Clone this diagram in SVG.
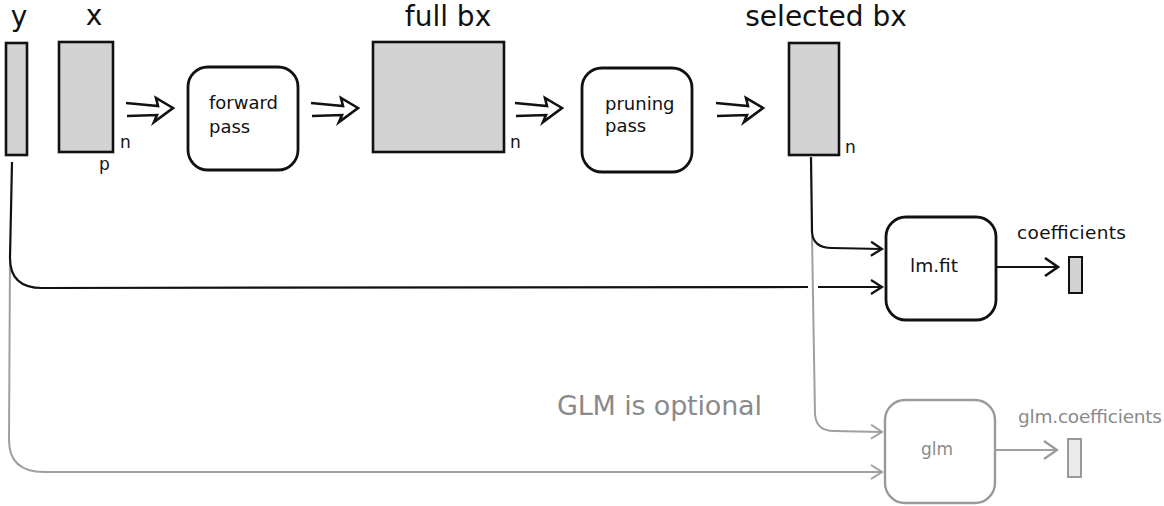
<svg xmlns="http://www.w3.org/2000/svg" xmlns:xlink="http://www.w3.org/1999/xlink" width="1164" height="506" viewBox="0 0 1164 506">
<style>
text{font-family:"DejaVu Sans","Liberation Sans",sans-serif;fill:#111}
.big{font-size:28px}
.box{font-size:18px}
.dim{font-size:17px}
.lbl{font-size:18.5px}
.gtext{fill:#8a8a8a}
.mat{fill:#d3d3d3;stroke:#111;stroke-width:2.6}
.gmat{fill:#ebebeb;stroke:#9a9a9a;stroke-width:2}
.proc{fill:#fff;stroke:#111;stroke-width:2.8}
.gproc{fill:#fff;stroke:#9a9a9a;stroke-width:2.4}
.ck{fill:none;stroke:#111;stroke-width:2.2}
.cg{fill:none;stroke:#a0a0a0;stroke-width:2}
.dbl{fill:none;stroke:#111;stroke-width:2.6;stroke-linejoin:miter}
</style>
<defs>
<marker id="ak" viewBox="0 0 14 16" refX="12" refY="8" markerWidth="14" markerHeight="16" orient="auto" markerUnits="userSpaceOnUse" overflow="visible">
<path d="M1,1 L12,8 L1,15" fill="none" stroke="#111" stroke-width="2.2"/>
</marker>
<marker id="akL" viewBox="0 0 16 20" refX="14" refY="10" markerWidth="16" markerHeight="20" orient="auto" markerUnits="userSpaceOnUse" overflow="visible">
<path d="M1,1 L14,10 L1,19" fill="none" stroke="#111" stroke-width="2.6"/>
</marker>
<marker id="ag" viewBox="0 0 14 16" refX="12" refY="8" markerWidth="14" markerHeight="16" orient="auto" markerUnits="userSpaceOnUse" overflow="visible">
<path d="M1,1 L12,8 L1,15" fill="none" stroke="#a0a0a0" stroke-width="2"/>
</marker>
<marker id="agL" viewBox="0 0 16 20" refX="14" refY="10" markerWidth="16" markerHeight="20" orient="auto" markerUnits="userSpaceOnUse" overflow="visible">
<path d="M1,1 L14,10 L1,19" fill="none" stroke="#9a9a9a" stroke-width="2.2"/>
</marker>
<path id="dblarrow" class="dbl" d="M0,-5 L32,-2 L30,-10 L47,0 L28,14 L31,7 L1,8"/>
</defs>

<g id="node-y">
<rect class="mat" x="6" y="43" width="21" height="112"/>
<text class="big" x="19" y="26" text-anchor="middle">y</text>
</g>

<g id="node-x">
<rect class="mat" x="59" y="42" width="54" height="110"/>
<text class="big" x="94" y="25" text-anchor="middle">x</text>
<text class="dim" x="120" y="148">n</text>
<text class="dim" x="99" y="170">p</text>
</g>

<g id="node-forward">
<rect class="proc" x="188" y="67" width="110" height="103" rx="20"/>
<text class="box" x="209" y="109">forward</text>
<text class="box" x="209" y="133">pass</text>
</g>

<g id="node-fullbx">
<rect class="mat" x="373" y="42" width="131" height="110"/>
<text class="big" x="448" y="26" text-anchor="middle">full bx</text>
<text class="dim" x="510" y="148">n</text>
</g>

<g id="node-pruning">
<rect class="proc" x="582" y="68" width="110" height="104" rx="20"/>
<text class="box" x="605" y="110">pruning</text>
<text class="box" x="605" y="132">pass</text>
</g>

<g id="node-selectedbx">
<rect class="mat" x="789" y="43" width="50" height="112"/>
<text class="big" x="826" y="26" text-anchor="middle">selected bx</text>
<text class="dim" x="845" y="153">n</text>
</g>

<g id="node-lmfit">
<rect class="proc" x="886" y="217" width="110" height="103" rx="20"/>
<text class="lbl" x="934" y="272" text-anchor="middle">lm.fit</text>
</g>

<g id="node-coefficients">
<rect class="mat" x="1069" y="257" width="13" height="36" style="stroke-width:2"/>
<text class="lbl" x="1017" y="239" textLength="109">coefficients</text>
</g>

<g id="node-glm">
<rect class="gproc" x="885" y="400" width="110" height="103" rx="20"/>
<text class="lbl gtext" x="937" y="455" text-anchor="middle" style="font-size:17px">glm</text>
</g>

<g id="node-glmcoefficients">
<rect class="gmat" x="1068" y="439" width="13" height="38"/>
<text class="lbl gtext" x="1018" y="423" textLength="144">glm.coefficients</text>
</g>

<g id="note">
<text class="gtext" x="557" y="415" style="font-size:27px" textLength="205">GLM is optional</text>
</g>

<g id="connectors">
<use xlink:href="#dblarrow" x="126" y="108"/>
<use xlink:href="#dblarrow" x="311" y="108"/>
<use xlink:href="#dblarrow" x="515" y="108"/>
<use xlink:href="#dblarrow" x="716" y="108"/>
<path class="cg" d="M812,236 L815,414 Q816,431 834,431 L882,432" marker-end="url(#ag)"/>
<path class="cg" d="M10,258 L9,440 Q9,472 44,472 L882,472" marker-end="url(#ag)"/>
<path class="ck" d="M811,157 L812,232 Q813,248 832,248 L882,249" marker-end="url(#ak)"/>
<path class="ck" d="M12,162 L10,258 Q10,288 42,288 L808,287"/>
<path class="ck" d="M818,287 L882,287" marker-end="url(#ak)"/>
<path class="ck" d="M997,267 L1058,267" marker-end="url(#akL)"/>
<path class="cg" d="M996,450 L1057,450" marker-end="url(#agL)"/>
</g>
</svg>
